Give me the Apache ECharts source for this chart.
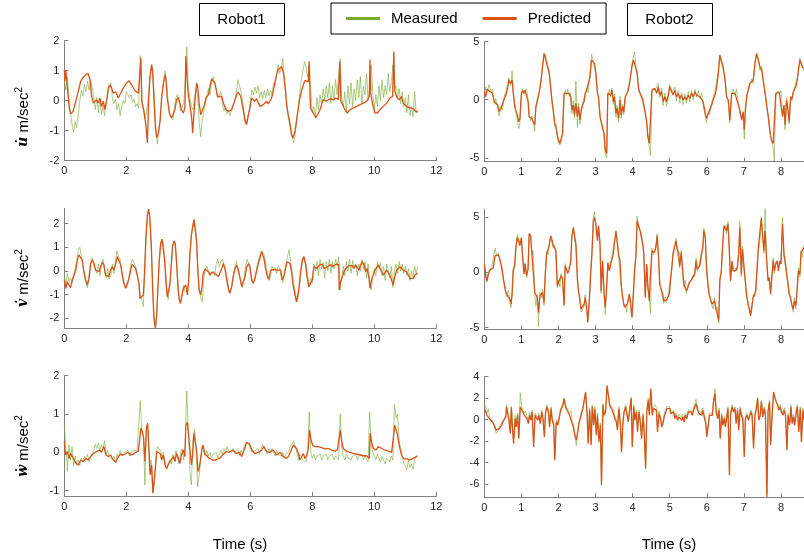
<!DOCTYPE html>
<html><head><meta charset="utf-8">
<script src="https://cdn.jsdelivr.net/npm/echarts@6/dist/echarts.min.js"></script>
<style>html,body{margin:0;padding:0;background:#fff}#c{width:804px;height:558px}</style>
</head><body><div id="c"></div>
<script>
// ---------------- DATA ----------------
const seriesNames = ['Measured', 'Predicted'];
const panelTitles = ['Robot1', 'Robot2'];
const yLabels = ['u', 'v', 'w'];
const xTicksL = [0, 2, 4, 6, 8, 10, 12];
const xTicksR = [0, 1, 2, 3, 4, 5, 6, 7, 8];
const yTicksTL = [-2, -1, 0, 1, 2];
const yTicksTR = [-5, 0, 5];
const yTicksML = [-2, -1, 0, 1, 2];
const yTicksMR = [-5, 0, 5];
const yTicksBL = [-1, 0, 1, 2];
const yTicksBR = [-6, -4, -2, 0, 2, 4];
const measStepL = 0.05; // sampling step of Robot1 measured series (s)

// Robot1 u-dot
const predTL_t = [0,0.02,0.05,0.1,0.16,0.2,0.29,0.38,0.45,0.53,0.61,0.7,0.77,0.83,0.88,0.94,0.99,1.04,1.1,1.15,1.2,1.26,1.31,1.37,1.42,1.47,1.53,1.58,1.66,1.74,1.82,1.9,2.01,2.09,2.17,2.28,2.39,2.44,2.47,2.5,2.57,2.63,2.68,2.72,2.76,2.82,2.85,2.89,2.94,2.98,3.03,3.09,3.14,3.19,3.25,3.28,3.32,3.39,3.46,3.52,3.57,3.62,3.68,3.73,3.78,3.84,3.89,3.92,3.96,4.0,4.05,4.11,4.14,4.18,4.23,4.27,4.3,4.35,4.4,4.46,4.52,4.57,4.65,4.7,4.75,4.81,4.86,4.94,5.0,5.08,5.13,5.22,5.29,5.4,5.47,5.56,5.61,5.69,5.77,5.83,5.88,5.94,5.99,6.04,6.1,6.15,6.2,6.26,6.31,6.37,6.42,6.47,6.53,6.58,6.63,6.69,6.74,6.8,6.85,6.9,6.96,7.01,7.04,7.08,7.13,7.17,7.22,7.28,7.33,7.38,7.44,7.49,7.54,7.6,7.65,7.71,7.76,7.82,7.87,7.9,7.94,7.98,8.03,8.12,8.2,8.25,8.3,8.35,8.44,8.52,8.59,8.68,8.76,8.84,8.89,8.92,8.98,9.05,9.13,9.22,9.33,9.43,9.54,9.65,9.75,9.84,9.86,9.89,9.95,10.02,10.1,10.18,10.29,10.4,10.5,10.59,10.63,10.66,10.72,10.8,10.88,10.93,11.04,11.15,11.26,11.37,11.4];
const predTL = [1.03,0.65,1.0,1.0,-0.25,-0.44,-0.35,0.03,0.3,0.65,0.78,0.87,0.9,0.7,0.15,-0.08,-0.02,0.03,-0.08,0.09,-0.19,-0.02,-0.3,0.03,0.42,0.53,0.42,0.25,0.3,0.09,0.25,0.42,0.59,0.67,0.53,0.33,0.25,0.25,1.42,-0.02,-0.36,-0.8,-1.41,-0.02,0.75,1.2,0.98,0.09,-0.91,-1.24,-1.08,-0.69,0.09,0.53,0.87,0.7,0.09,-0.41,-0.58,-0.58,-0.3,0.03,0.11,-0.08,-0.3,-0.41,-0.24,1.48,0.75,0.2,-0.13,-0.58,-1.08,-0.47,0.2,0.59,0.48,-0.08,-0.47,-0.41,-0.13,0.09,0.2,0.48,0.73,0.75,0.59,0.14,0.11,0.14,-0.08,-0.3,-0.36,-0.3,-0.08,0.2,0.29,0.14,-0.3,-0.69,-0.8,-0.47,-0.24,0.09,0.03,-0.02,0.07,0.03,-0.19,-0.24,-0.13,-0.19,-0.02,-0.11,-0.02,0.11,0.31,0.64,0.87,1.03,1.09,1.14,1.2,0.87,0.42,-0.13,-0.47,-0.8,-1.13,-1.24,-1.02,-0.69,-0.3,0.09,0.31,0.53,0.67,0.64,0.64,1.31,-0.24,-0.3,-0.41,-0.56,-0.41,-0.3,-0.13,0.03,-0.02,0.03,0.07,0.03,0.09,0.03,1.31,-0.02,-0.13,-0.3,-0.41,-0.3,-0.24,-0.19,-0.13,-0.08,-0.02,0.14,1.37,0.2,-0.13,-0.41,-0.41,-0.3,-0.19,-0.08,0.09,0.14,1.64,0.31,0.14,0.03,0.14,-0.08,-0.19,-0.24,-0.27,-0.38,-0.36];
const measTL = [0.7,0.35,0.8,0.1,-0.4,-0.8,-1.05,-0.7,-0.9,-0.45,
0.0,0.35,0.15,0.55,0.3,0.65,0.35,0.7,0.45,0.1,
-0.3,0.1,-0.4,0.05,-0.45,-0.15,-0.5,-0.1,0.2,0.45,
0.6,0.1,-0.1,0.05,-0.3,-0.1,-0.5,-0.2,0.0,-0.1,
0.3,0.2,0.1,0.2,-0.05,0.05,-0.2,-0.1,-0.25,1.5,
0.1,-0.3,-0.6,-0.4,0.0,0.6,1.1,0.9,0.2,-0.8,
-1.45,-1.0,-0.5,0.2,0.6,1.0,0.6,0.0,-0.5,-0.55,
-0.65,-0.2,0.1,0.2,-0.05,-0.35,-0.3,-0.1,0.6,1.8,
0.4,0.1,-0.2,-0.3,0.1,0.4,0.2,-0.7,-1.2,-0.6,
-0.4,-0.1,0.2,0.4,0.2,0.6,0.8,0.55,0.4,0.1,
0.1,0.3,-0.1,-0.35,-0.2,-0.45,-0.3,-0.5,-0.25,-0.2,
0.0,0.3,0.7,0.5,0.3,0.0,-0.4,-0.75,-0.7,-0.4,
0.0,0.35,0.2,0.45,0.25,0.5,0.1,0.3,0.05,0.35,
0.1,0.4,0.15,0.35,0.2,0.6,0.5,0.9,1.2,0.9,
1.1,1.4,0.6,0.2,-0.3,-0.55,-0.9,-1.2,-1.4,-1.1,
-0.6,-0.2,0.3,0.7,1.0,1.3,1.1,0.8,1.2,0.3,
-0.4,-0.2,-0.6,0.1,-0.3,0.2,-0.1,0.4,0.0,0.5,
0.1,0.6,-0.1,0.5,0.0,0.7,0.2,0.9,1.4,0.1,
-0.2,0.3,-0.4,0.5,-0.1,0.6,-0.2,0.4,0.0,0.7,
0.1,0.8,-0.1,0.5,0.2,0.9,0.0,0.4,1.2,0.3,
-0.3,0.2,-0.2,0.5,0.0,0.7,0.1,0.5,0.2,0.9,
0.3,0.6,1.2,0.4,0.5,0.1,0.4,-0.1,0.3,-0.2,
0.1,-0.4,0.2,-0.5,-0.2,-0.55,0.3,-0.4,-0.3];

// Robot1 v-dot
const predML_t = [0,0.05,0.1,0.15,0.2,0.26,0.31,0.37,0.42,0.47,0.53,0.58,0.63,0.69,0.74,0.8,0.85,0.9,0.96,1.01,1.06,1.12,1.17,1.23,1.28,1.33,1.39,1.44,1.49,1.55,1.6,1.66,1.71,1.76,1.82,1.87,1.92,1.98,2.03,2.09,2.14,2.19,2.25,2.3,2.35,2.41,2.44,2.49,2.55,2.59,2.63,2.68,2.72,2.76,2.81,2.85,2.89,2.94,2.98,3.02,3.06,3.11,3.15,3.19,3.23,3.28,3.32,3.37,3.41,3.45,3.49,3.54,3.58,3.62,3.67,3.71,3.75,3.8,3.84,3.88,3.92,3.97,4.01,4.05,4.1,4.14,4.18,4.23,4.27,4.31,4.35,4.4,4.45,4.48,4.54,4.59,4.65,4.7,4.75,4.81,4.86,4.91,4.97,5.02,5.08,5.13,5.19,5.24,5.3,5.34,5.4,5.45,5.51,5.56,5.62,5.67,5.72,5.77,5.83,5.88,5.94,5.99,6.04,6.1,6.15,6.2,6.26,6.31,6.37,6.4,6.44,6.49,6.55,6.6,6.66,6.71,6.76,6.82,6.87,6.92,6.98,7.03,7.08,7.14,7.19,7.25,7.28,7.33,7.38,7.44,7.49,7.52,7.57,7.62,7.68,7.73,7.78,7.83,7.89,7.95,8.0,8.05,8.11,8.16,8.22,8.27,8.33,8.38,8.43,8.49,8.54,8.59,8.65,8.7,8.75,8.81,8.85,8.87,8.91,8.97,9.02,9.08,9.13,9.19,9.24,9.29,9.34,9.4,9.45,9.51,9.56,9.61,9.67,9.72,9.77,9.83,9.86,9.91,9.97,10.02,10.08,10.13,10.18,10.24,10.29,10.35,10.4,10.45,10.5,10.56,10.61,10.66,10.72,10.77,10.83,10.88,10.93,10.99,11.04,11.09,11.15,11.2,11.26,11.31,11.37,11.4];
const predML = [-0.38,-0.73,-0.45,-0.59,-0.7,-0.38,-0.45,0.04,0.47,0.68,0.7,0.47,-0.03,-0.38,-0.59,-0.31,0.32,0.47,0.32,0.04,0.11,-0.03,0.18,0.37,0.25,-0.17,-0.1,-0.24,0.04,0.18,0.04,0.32,0.61,0.61,0.25,-0.17,-0.52,-0.73,-0.66,-0.31,0.04,0.28,0.32,0.11,-0.17,-0.52,-1.16,-1.18,-1.01,-0.03,1.38,2.37,2.62,2.23,0.96,-0.73,-2.0,-2.42,-1.86,-0.73,0.39,1.17,1.34,1.27,0.54,-0.45,-1.09,-1.01,-0.52,0.25,1.03,1.27,1.17,0.39,-0.73,-1.23,-1.37,-1.01,-0.73,-0.8,-0.59,-1.01,-0.45,0.68,1.52,1.87,2.16,2.09,1.24,-0.03,-0.8,-1.01,-0.59,-0.1,0.08,0.11,-0.03,-0.17,-0.06,-0.13,-0.1,-0.03,-0.24,-0.2,0.11,0.32,0.04,-0.38,-0.8,-0.94,-0.66,-0.24,0.11,0.25,0.04,-0.31,-0.66,-0.59,-0.24,0.14,0.32,0.18,-0.38,-0.52,-0.52,-0.03,0.32,0.54,0.82,0.85,0.54,0.11,-0.24,-0.34,0.04,0.08,0.07,0.08,0.04,0.08,0.04,-0.38,-0.24,0.11,0.39,0.47,0.32,-0.03,-0.59,-1.01,-1.3,-1.23,-0.73,-0.03,0.47,0.61,0.32,-0.24,-0.66,-0.73,-0.38,0.18,0.25,0.11,0.25,0.18,0.28,0.11,0.11,0.18,0.25,0.28,0.18,0.25,0.28,0.32,0.28,-0.8,-0.45,-0.24,-0.03,0.11,0.18,0.23,0.18,0.23,0.11,0.25,0.18,0.04,0.25,0.39,0.25,-0.03,0.11,-0.31,-0.73,-0.38,-0.17,0.04,0.11,0.25,0.18,-0.03,-0.17,-0.17,0.04,-0.03,-0.17,-0.1,-0.59,-0.24,0.04,0.11,0.18,0.11,0.04,-0.03,-0.03,-0.1,-0.31,-0.34,-0.31,-0.17,-0.1,-0.1];
const measML = [-0.2,-0.6,-0.1,-0.45,-0.3,-0.5,-0.2,0.1,0.4,0.9,
1.0,0.6,0.2,-0.2,-0.5,-0.7,-0.1,0.3,0.55,0.25,
0.2,-0.1,0.3,-0.2,0.35,0.5,0.0,-0.3,0.1,-0.35,
-0.2,0.3,-0.1,0.45,0.85,0.6,0.5,0.0,-0.3,-0.6,
-0.7,-0.55,-0.1,0.3,0.5,0.35,0.2,-0.1,-0.5,-1.0,
-1.2,-1.5,0.2,1.7,2.5,2.4,1.2,-0.6,-2.0,-2.3,
-1.3,0.1,1.1,1.35,1.2,0.3,-0.7,-1.2,-0.7,0.2,
1.1,1.25,0.8,-0.3,-1.1,-1.3,-1.0,-0.6,-0.9,-0.8,
-0.6,0.6,1.5,1.9,2.2,1.7,0.3,-0.8,-1.1,-1.3,
-0.3,0.1,0.2,0.0,-0.2,-0.1,0.0,-0.2,0.3,0.5,
0.2,0.4,0.5,0.3,0.1,-0.3,-0.7,-0.9,-0.7,-0.2,
0.2,0.4,0.0,-0.2,-0.5,-0.7,-0.3,0.2,0.5,0.3,
0.0,-0.3,-0.5,-0.4,0.1,0.4,0.6,0.85,0.9,0.7,
0.3,-0.1,-0.4,-0.2,0.2,0.0,0.15,-0.1,0.2,0.1,
-0.3,-0.5,0.0,0.3,0.6,0.9,0.4,0.0,-0.5,-0.9,
-1.25,-1.1,-0.5,0.1,0.5,0.55,0.3,-0.2,-0.6,-0.3,
-0.5,0.3,0.0,0.4,-0.2,0.5,0.1,0.35,-0.3,0.4,
0.0,0.5,-0.1,0.4,0.1,0.5,0.2,0.6,-0.8,-0.3,
0.2,-0.2,0.4,0.0,0.5,-0.1,0.45,0.1,0.3,-0.2,
0.3,0.0,0.5,0.1,0.4,-0.3,0.3,-0.4,-0.8,-0.2,
0.1,-0.2,0.4,0.1,0.35,-0.2,0.2,-0.4,0.3,0.0,
-0.3,0.2,-0.7,0.0,0.3,-0.1,0.4,0.0,0.3,-0.1,
0.2,-0.2,0.1,-0.4,0.0,-0.3,0.2,-0.1,0.2];

// Robot1 w-dot
const predBL_t = [0,0.04,0.1,0.15,0.2,0.26,0.31,0.38,0.45,0.53,0.61,0.7,0.77,0.85,0.94,1.04,1.15,1.2,1.28,1.34,1.42,1.49,1.58,1.66,1.74,1.82,1.9,1.99,2.06,2.14,2.23,2.31,2.39,2.44,2.47,2.52,2.56,2.6,2.65,2.69,2.73,2.77,2.82,2.86,2.89,2.94,2.98,3.03,3.09,3.14,3.19,3.25,3.3,3.35,3.41,3.46,3.52,3.57,3.62,3.68,3.73,3.78,3.84,3.89,3.92,3.97,4.01,4.05,4.1,4.14,4.18,4.23,4.27,4.31,4.35,4.4,4.44,4.48,4.53,4.59,4.68,4.78,4.89,5.0,5.11,5.22,5.32,5.43,5.54,5.65,5.72,5.8,5.88,5.97,6.05,6.15,6.26,6.37,6.44,6.53,6.63,6.74,6.85,6.96,7.06,7.15,7.23,7.3,7.39,7.44,7.49,7.55,7.6,7.66,7.71,7.76,7.82,7.87,7.91,7.96,8.01,8.09,8.19,8.3,8.41,8.52,8.62,8.73,8.81,8.87,8.9,8.95,9.0,9.11,9.22,9.32,9.43,9.54,9.65,9.75,9.84,9.87,9.91,9.97,10.05,10.13,10.24,10.35,10.45,10.56,10.61,10.66,10.7,10.75,10.81,10.88,10.96,11.05,11.13,11.22,11.3,11.39];
const predBL = [0.28,-0.07,0.02,-0.16,-0.03,-0.11,-0.07,-0.29,-0.33,-0.2,-0.24,-0.16,-0.2,-0.11,-0.03,0.02,0.06,0.0,0.15,-0.07,-0.11,-0.07,-0.2,-0.26,-0.11,-0.05,-0.07,-0.03,0.0,-0.07,-0.05,0.0,0.03,0.06,0.63,0.54,0.37,-0.24,0.63,0.76,0.1,-0.59,-0.33,-1.07,-1.03,-0.42,0.02,0.06,-0.03,-0.2,-0.07,-0.33,-0.42,-0.33,-0.24,-0.29,-0.11,-0.24,-0.03,-0.16,-0.29,-0.07,0.06,-0.11,0.71,0.78,0.45,0.1,-0.33,-0.07,0.5,0.54,0.02,-0.5,-0.42,-0.16,0.1,0.19,-0.03,-0.07,-0.16,-0.2,-0.2,-0.16,-0.07,0.02,0.0,0.06,-0.03,0.0,-0.11,0.06,0.26,0.23,0.06,-0.03,0.0,0.06,0.15,0.02,0.0,0.06,-0.07,0.0,-0.11,-0.16,-0.11,0.02,0.19,0.23,0.1,-0.03,-0.2,-0.11,-0.03,-0.16,-0.07,0.1,0.58,0.32,0.19,0.15,0.15,0.12,0.09,0.1,0.06,0.03,0.06,0.03,0.58,0.28,0.1,0.02,0.0,-0.03,-0.05,-0.07,-0.09,-0.09,-0.16,0.5,0.28,0.1,0.06,0.15,0.1,0.06,0.03,0.0,-0.03,0.71,0.67,0.45,0.15,-0.07,-0.17,-0.17,-0.2,-0.17,-0.14,-0.09];
const measBL = [0.75,0.1,-0.5,0.2,-0.2,0.15,-0.35,-0.1,-0.3,-0.2,
-0.35,-0.15,-0.25,-0.1,-0.2,-0.05,-0.25,-0.1,-0.15,0.05,
0.2,0.1,0.25,0.05,0.2,0.1,0.3,-0.05,0.05,-0.1,
-0.05,-0.2,-0.1,-0.25,-0.05,-0.15,0.05,-0.1,-0.05,0.0,
-0.05,0.05,-0.1,0.0,-0.05,0.05,0.0,0.05,0.1,1.35,
0.5,0.4,-0.85,0.7,0.6,-0.5,-0.2,-1.05,-0.8,-0.2,
0.15,0.1,0.05,-0.1,0.0,-0.25,-0.45,-0.3,-0.2,-0.3,
-0.05,-0.2,0.05,-0.1,-0.3,0.0,0.1,-0.2,0.2,1.6,
0.6,-0.5,-0.85,0.3,0.6,0.2,-0.9,-0.6,-0.2,0.15,
0.0,-0.1,0.05,-0.1,0.0,-0.15,-0.05,-0.1,0.0,-0.15,
-0.05,0.05,-0.05,0.1,0.0,0.15,0.05,0.1,0.0,0.1,
0.0,-0.05,0.1,-0.1,0.05,-0.05,0.15,0.25,0.3,0.2,
0.1,0.0,-0.05,0.05,0.0,0.1,-0.05,0.1,0.2,0.1,
0.05,-0.05,0.1,0.0,0.1,0.05,-0.1,0.05,-0.05,0.0,
-0.1,0.0,-0.15,-0.05,-0.1,0.05,0.15,0.2,0.3,0.25,
0.0,-0.2,-0.05,-0.1,-0.2,-0.15,-0.25,0.0,1.05,0.0,
-0.15,-0.05,-0.2,-0.1,-0.15,-0.05,-0.2,-0.1,-0.15,-0.05,
-0.2,-0.1,-0.15,-0.05,-0.2,-0.1,-0.15,-0.2,1.0,0.1,
-0.1,-0.2,-0.05,-0.15,-0.1,-0.2,-0.1,-0.15,-0.05,-0.2,
-0.1,-0.15,-0.05,-0.2,-0.1,-0.15,-0.25,1.05,0.2,0.0,
-0.1,-0.2,-0.05,-0.15,-0.25,-0.1,-0.2,-0.3,-0.15,-0.2,
-0.25,-0.1,-0.2,1.25,0.9,1.0,0.3,0.1,-0.1,-0.3,
-0.35,-0.45,-0.2,-0.4,-0.3,-0.45,-0.2,-0.1,-0.15];

// Robot2 u-dot
const tTR = [0,0.04,0.07,0.13,0.18,0.22,0.27,0.31,0.36,0.4,0.45,0.49,0.54,0.58,0.63,0.66,0.71,0.75,0.78,0.82,0.85,0.89,0.93,0.96,1.0,1.03,1.07,1.1,1.14,1.18,1.21,1.25,1.28,1.32,1.36,1.39,1.43,1.46,1.5,1.54,1.57,1.61,1.64,1.68,1.72,1.75,1.79,1.82,1.86,1.9,1.93,1.97,2.0,2.04,2.07,2.11,2.15,2.18,2.22,2.25,2.29,2.33,2.36,2.4,2.43,2.47,2.51,2.54,2.58,2.61,2.65,2.69,2.72,2.76,2.8,2.85,2.89,2.94,2.97,3.01,3.05,3.08,3.12,3.15,3.19,3.23,3.26,3.3,3.33,3.37,3.41,3.44,3.48,3.51,3.55,3.58,3.62,3.66,3.69,3.73,3.76,3.8,3.84,3.87,3.91,3.94,3.98,4.02,4.05,4.09,4.12,4.16,4.2,4.23,4.27,4.3,4.34,4.38,4.41,4.45,4.48,4.52,4.56,4.6,4.65,4.69,4.73,4.78,4.82,4.87,4.91,4.96,5.0,5.05,5.09,5.14,5.18,5.23,5.27,5.32,5.36,5.41,5.45,5.5,5.54,5.59,5.63,5.68,5.72,5.77,5.81,5.86,5.9,5.95,5.99,6.04,6.08,6.13,6.17,6.22,6.26,6.31,6.35,6.4,6.44,6.49,6.53,6.58,6.62,6.67,6.71,6.76,6.8,6.85,6.89,6.94,6.98,7.01,7.04,7.08,7.12,7.16,7.21,7.25,7.3,7.34,7.39,7.43,7.48,7.52,7.57,7.61,7.66,7.7,7.74,7.79,7.82,7.86,7.91,7.95,8.0,8.04,8.08,8.11,8.15,8.19,8.22,8.26,8.29,8.33,8.36,8.4,8.44,8.47,8.51,8.54,8.58,8.62];
const predTR = [0.69,0.26,0.89,0.78,0.83,0.55,-0.17,-0.32,-0.46,-1.03,-0.75,-0.6,0.11,0.4,0.98,1.7,1.41,1.7,0.69,-0.6,-0.66,-1.32,-1.9,-1.61,0.55,0.78,0.55,0.83,0.78,-0.17,-1.47,-1.52,-1.61,-1.75,-2.18,-0.6,-0.46,0.4,0.98,1.98,2.84,3.99,3.71,3.13,3.13,2.27,0.98,0.11,-1.03,-2.04,-2.33,-3.05,-3.48,-3.76,-3.62,-2.9,0.55,0.6,0.55,0.69,0.55,0.26,-0.89,-0.46,-1.32,-0.32,-1.47,-0.6,-1.75,-1.03,-0.46,-0.17,0.55,0.83,0.83,1.98,3.42,3.56,3.13,2.27,0.55,0.26,-1.47,-1.61,-2.47,-2.9,-4.34,-4.63,0.55,0.69,0.4,0.83,-0.17,0.26,-1.18,-0.75,-1.61,-0.03,-1.32,-0.6,-1.03,0.26,0.4,0.69,1.26,1.98,2.84,3.42,3.13,3.13,2.27,0.98,0.55,0.69,-0.03,0.11,-1.18,-1.9,-3.19,-3.76,-3.91,0.83,0.69,0.98,0.55,1.12,0.4,0.69,-0.17,0.26,-0.17,0.4,1.12,0.98,0.4,0.83,0.26,0.55,0.11,0.4,-0.03,0.26,-0.03,0.4,0.11,0.55,0.26,0.69,0.4,0.55,0.26,0.4,-0.17,-1.03,-1.61,-1.18,-1.03,-0.46,-0.03,0.4,0.98,2.27,3.85,3.28,2.84,1.7,0.26,-0.03,-1.75,0.55,0.69,0.55,0.69,-0.46,-0.89,-1.75,-1.03,-2.61,-0.89,0.4,0.55,1.41,1.55,1.7,3.13,3.99,3.42,2.84,2.56,1.7,0.55,-0.32,-1.61,-2.61,-3.48,-3.76,-3.91,0.55,0.55,0.69,0.55,-1.47,-0.46,-2.18,-0.03,-0.89,-1.9,0.26,-0.03,0.69,0.83,1.12,1.7,2.56,3.42,3.28,2.84,2.7];
const measTR = [0.5,1.1,0.6,1.3,0.7,0.9,-0.4,0.1,-0.7,-1.4,-0.5,-0.9,0.3,0.2,1.3,1.9,1.2,2.5,0.4,-0.3,-1.0,-1.1,-2.5,-2.0,0.3,0.9,0.7,0.6,0.9,0.1,-1.2,-1.8,-1.4,-2.0,-2.7,-0.8,-0.3,0.2,1.2,1.6,3.0,3.7,3.9,3.4,2.9,2.5,1.3,-0.2,-0.8,-2.3,-2.1,-3.3,-3.7,-3.9,-3.5,-3.1,0.4,0.8,0.4,0.9,0.3,0.5,-1.2,-0.1,-1.6,1.6,-2.4,-0.3,-2.1,-0.8,-0.7,0.1,0.3,1.0,0.6,2.2,3.9,3.4,3.3,2.0,0.8,0.0,-1.2,-1.9,-2.2,-3.2,-4.6,-5.0,0.4,0.9,0.2,1.0,-0.4,0.5,-1.5,-0.5,-1.9,0.3,-1.6,-0.4,-1.3,0.0,0.6,0.5,1.5,1.8,3.1,3.2,4.1,2.9,2.5,0.7,0.8,0.4,0.2,-0.2,-1.0,-2.2,-3.0,-4.1,-4.8,0.6,1.0,0.8,0.9,1.4,0.2,1.0,-0.5,0.6,-0.6,0.1,1.3,0.6,0.7,1.1,-0.1,0.8,-0.3,0.6,-0.4,0.5,-0.3,0.7,-0.2,0.8,0.0,0.9,0.2,0.8,0.1,0.6,-0.5,-1.3,-2.0,-1.0,-1.3,-0.2,-0.3,0.7,0.8,2.5,3.6,3.5,2.6,2.0,0.5,-0.3,-2.0,0.3,0.9,0.4,0.9,-0.2,-1.2,-1.5,-1.3,-3.4,-0.6,0.2,0.8,1.2,1.8,1.4,3.3,3.8,3.6,2.5,2.9,1.5,0.8,-0.6,-1.3,-2.9,-3.3,-4.1,-5.3,0.3,0.7,0.5,0.8,-1.2,-0.7,-2.6,0.2,-1.1,-2.1,0.0,0.2,0.5,1.0,0.9,1.9,2.4,3.6,3.0,3.1,2.4];

// Robot2 v-dot
const tMR = [0,0.04,0.07,0.11,0.15,0.2,0.24,0.29,0.33,0.38,0.42,0.47,0.51,0.56,0.6,0.65,0.69,0.72,0.75,0.78,0.82,0.85,0.89,0.93,0.96,1.0,1.03,1.07,1.1,1.14,1.18,1.21,1.25,1.28,1.32,1.36,1.39,1.43,1.46,1.5,1.54,1.57,1.61,1.64,1.68,1.72,1.75,1.79,1.82,1.86,1.9,1.93,1.97,2.0,2.04,2.07,2.11,2.15,2.18,2.22,2.25,2.29,2.33,2.36,2.4,2.43,2.47,2.51,2.54,2.58,2.61,2.65,2.69,2.72,2.76,2.79,2.83,2.87,2.9,2.94,2.97,3.01,3.05,3.08,3.12,3.15,3.19,3.23,3.26,3.3,3.33,3.37,3.41,3.44,3.48,3.51,3.55,3.58,3.62,3.66,3.69,3.73,3.76,3.8,3.84,3.87,3.91,3.94,3.98,4.02,4.05,4.09,4.12,4.16,4.2,4.23,4.27,4.3,4.34,4.38,4.41,4.45,4.48,4.52,4.56,4.59,4.63,4.66,4.7,4.73,4.77,4.81,4.84,4.88,4.91,4.95,4.99,5.02,5.06,5.09,5.13,5.17,5.2,5.24,5.27,5.31,5.35,5.38,5.42,5.45,5.49,5.53,5.56,5.6,5.63,5.67,5.71,5.74,5.78,5.81,5.85,5.89,5.92,5.96,5.99,6.03,6.06,6.1,6.14,6.17,6.21,6.24,6.28,6.32,6.35,6.39,6.42,6.46,6.5,6.53,6.57,6.6,6.64,6.68,6.71,6.75,6.78,6.82,6.86,6.89,6.93,6.96,7.0,7.04,7.07,7.11,7.14,7.18,7.21,7.25,7.29,7.32,7.36,7.39,7.43,7.47,7.5,7.54,7.57,7.61,7.65,7.68,7.72,7.75,7.79,7.82,7.86,7.9,7.93,7.97,8.0,8.04,8.08,8.11,8.15,8.19,8.22,8.26,8.29,8.33,8.36,8.4,8.44,8.47,8.51,8.54,8.58,8.62];
const predMR = [0.76,-0.3,-0.82,-0.15,0.21,0.15,0.39,1.51,1.66,1.6,1.21,0.45,-0.45,-1.51,-1.96,-1.81,-2.42,-2.87,-1.96,0.15,0.6,2.27,3.17,3.32,2.42,3.17,1.51,-0.15,0.76,-0.3,0.3,3.53,3.32,1.81,1.81,-1.81,-1.96,-2.27,-3.63,-2.11,-1.96,-1.81,-2.72,-0.45,1.66,1.81,2.42,3.32,3.02,2.42,2.21,1.96,-1.21,-0.91,-1.06,-0.3,-0.6,-3.02,0.6,0.45,-0.09,0.3,1.06,3.17,4.08,3.47,2.57,-0.6,-1.66,-2.57,-3.32,-3.47,-2.87,-2.27,-3.17,-4.53,-2.57,0.0,1.51,4.68,4.98,4.38,2.87,4.23,2.57,-1.66,1.06,-1.96,-3.17,-1.36,0.91,0.15,0.76,1.21,1.66,2.72,3.78,2.87,1.66,1.06,-1.06,-2.27,-2.87,-3.17,-3.32,-2.72,-1.96,-2.57,-4.08,-1.96,0.0,1.66,4.68,4.23,3.78,3.93,2.57,1.81,-2.27,0.76,-1.21,-2.57,-0.15,1.96,1.81,1.81,2.42,3.32,1.36,-1.06,-1.51,-1.96,-2.57,-2.42,-2.51,-2.42,-1.96,-0.76,0.6,1.66,2.27,2.87,2.11,1.81,0.6,1.81,0.15,-1.06,-0.91,-1.66,-1.36,-0.91,-1.06,-0.6,-0.45,-0.15,1.06,0.3,0.15,0.6,1.51,2.27,3.78,3.17,0.45,-1.06,-1.96,-2.42,-2.87,-3.02,-2.57,-3.17,-3.32,-4.38,-0.76,0.15,1.96,4.23,4.08,3.78,4.38,2.57,-0.76,1.06,0.15,0.3,0.15,0.45,1.66,4.08,-0.15,2.11,0.6,-0.91,-1.96,-2.87,-3.17,-3.93,-3.17,-2.27,-1.96,-1.66,0.6,2.27,2.42,4.98,3.47,1.96,3.78,1.36,-0.76,-0.45,-1.96,-0.45,1.06,0.15,0.76,1.06,0.15,1.06,0.76,4.38,1.66,1.06,0.0,-1.06,-1.96,-2.27,-2.87,-3.32,-2.57,-3.02,-1.36,0.15,-0.15,1.81,1.66,2.27];
const measMR = [0.9,-0.1,-0.7,0.1,0.3,0.5,0.6,2.2,1.5,1.8,1.0,0.6,-0.6,-1.3,-2.2,-1.6,-2.6,-3.2,-1.7,0.4,0.8,2.0,3.4,3.1,2.6,3.0,1.8,0.1,0.9,-0.5,0.5,3.3,3.5,1.6,2.0,-2.0,-3.0,-2.0,-4.9,-1.8,-2.3,-1.5,-3.0,-0.2,1.9,1.6,2.7,3.1,3.2,2.2,2.5,1.7,-1.4,-0.7,-1.3,-0.1,-0.8,-2.8,0.8,0.2,0.1,0.5,0.8,3.4,3.8,3.7,2.3,-0.3,-1.9,-2.3,-3.6,-3.3,-3.1,-2.0,-3.4,-4.3,-2.8,0.3,1.7,4.9,5.5,4.1,3.1,4.0,2.8,-1.9,0.8,-1.7,-3.8,-1.1,0.7,0.4,0.5,1.4,1.4,2.9,3.5,3.1,1.4,1.3,-1.3,-2.0,-3.1,-2.9,-3.6,-2.5,-2.2,-2.3,-4.0,-1.7,0.3,1.4,5.1,4.0,4.0,3.7,2.8,1.6,-2.0,0.5,-1.5,-2.3,-3.7,2.2,1.6,2.0,2.2,3.5,1.1,-0.8,-1.8,-1.7,-2.8,-2.2,-2.7,-2.2,-2.2,-0.5,0.4,1.9,2.0,3.1,1.9,2.0,0.4,2.0,-0.1,-1.3,-0.7,-1.9,-1.1,-1.1,-0.8,-0.8,-0.2,-0.4,1.3,0.1,0.4,0.4,1.8,2.0,4.0,2.9,0.7,-1.3,-1.7,-2.6,-2.6,-3.3,-2.3,-3.4,-3.1,-4.6,-0.5,-0.1,2.2,4.0,4.3,3.5,4.6,2.3,-0.5,0.8,0.4,0.1,0.4,0.2,1.9,4.6,-0.4,2.4,0.3,-0.7,-2.2,-2.6,-3.4,-3.7,-3.4,-2.0,-2.2,-1.4,0.8,2.0,2.7,4.8,3.7,1.7,5.8,1.1,-0.5,-0.7,-1.7,-0.7,1.3,-0.1,1.0,0.8,0.4,0.8,1.0,5.0,1.4,1.3,-0.2,-1.3,-1.7,-2.5,-2.6,-3.6,-2.3,-3.3,-1.1,0.4,-0.4,2.0,1.4,2.5];

// Robot2 w-dot
const tBR = [0,0.04,0.07,0.11,0.14,0.18,0.22,0.25,0.29,0.32,0.36,0.4,0.43,0.47,0.5,0.54,0.58,0.6,0.64,0.67,0.7,0.73,0.76,0.79,0.83,0.86,0.9,0.93,0.97,1.01,1.04,1.08,1.11,1.15,1.19,1.22,1.26,1.29,1.33,1.37,1.4,1.44,1.47,1.51,1.55,1.58,1.62,1.65,1.69,1.73,1.76,1.8,1.83,1.87,1.9,1.94,1.98,2.01,2.05,2.08,2.12,2.15,2.19,2.23,2.26,2.3,2.34,2.37,2.41,2.44,2.48,2.52,2.55,2.59,2.62,2.66,2.7,2.73,2.77,2.8,2.84,2.88,2.91,2.95,2.98,3.02,3.05,3.09,3.13,3.16,3.2,3.23,3.27,3.31,3.34,3.38,3.41,3.45,3.49,3.52,3.56,3.59,3.63,3.67,3.7,3.74,3.77,3.81,3.85,3.88,3.92,3.96,3.99,4.03,4.06,4.1,4.13,4.17,4.21,4.24,4.28,4.31,4.35,4.38,4.42,4.45,4.49,4.53,4.56,4.6,4.64,4.67,4.71,4.75,4.78,4.82,4.85,4.89,4.92,4.96,5.0,5.03,5.07,5.1,5.14,5.17,5.21,5.25,5.28,5.32,5.35,5.39,5.42,5.46,5.5,5.53,5.57,5.61,5.64,5.68,5.71,5.75,5.79,5.82,5.86,5.89,5.93,5.97,6.0,6.04,6.07,6.11,6.15,6.18,6.22,6.25,6.29,6.33,6.36,6.4,6.43,6.47,6.5,6.54,6.57,6.61,6.64,6.68,6.72,6.76,6.79,6.83,6.86,6.9,6.93,6.97,7.01,7.04,7.08,7.12,7.15,7.19,7.22,7.26,7.3,7.33,7.37,7.4,7.44,7.47,7.51,7.55,7.58,7.62,7.65,7.69,7.72,7.76,7.8,7.83,7.87,7.91,7.94,7.98,8.01,8.05,8.09,8.12,8.16,8.19,8.23,8.27,8.3,8.34,8.37,8.41,8.44,8.48,8.52,8.55,8.59,8.62];
const predBR = [1.02,0.71,0.4,0.56,0.09,-0.06,-0.22,-0.37,-0.68,-0.99,-1.15,-0.84,-0.68,-0.53,-0.22,-0.06,0.25,1.18,0.4,-0.22,-1.3,1.18,-0.84,-2.24,0.09,-0.68,0.4,-1.77,1.18,1.02,0.71,0.4,0.56,0.09,-0.37,0.4,-0.06,0.71,-2.55,0.4,0.25,-0.06,0.4,-0.37,0.71,0.09,-1.61,0.56,1.18,0.71,-0.68,1.02,-0.06,-0.53,-3.79,-0.22,-0.53,-0.06,0.71,1.02,1.34,1.96,1.18,0.87,1.02,0.4,0.56,-0.37,-0.84,-1.46,-1.93,-1.15,-0.37,0.09,0.56,1.02,1.02,2.58,0.71,-2.24,0.87,-2.39,1.18,-0.53,1.02,-1.46,0.4,-2.08,-0.53,-6.12,1.34,0.4,0.71,3.2,3.2,1.34,1.18,0.87,0.71,0.09,-0.22,-0.99,1.02,-0.53,-3.01,-0.22,0.71,1.18,0.4,-0.22,0.87,1.96,-2.55,1.18,-0.06,0.71,-1.15,0.71,-0.37,-1.77,0.4,-1.15,-4.57,0.71,1.8,0.4,2.89,0.4,1.02,1.18,0.87,-1.15,0.56,0.09,-0.68,-0.37,0.25,0.71,1.02,0.87,1.02,0.56,0.4,0.71,0.09,0.4,-0.06,0.25,0.4,-0.06,0.25,-0.22,0.4,0.09,0.71,0.56,0.71,0.4,0.87,1.02,1.49,0.87,0.56,0.71,0.4,0.87,1.02,-0.37,-1.61,-0.53,0.4,0.25,0.4,1.65,2.42,0.71,0.09,0.87,-1.77,0.4,-0.53,0.09,-0.68,-0.53,1.02,-5.19,0.4,1.18,0.71,1.02,-0.37,0.87,-0.99,1.02,0.4,0.09,-3.48,0.09,0.4,-0.06,0.25,0.71,0.4,-2.7,0.4,0.87,1.96,-0.06,0.4,1.65,0.25,1.02,0.4,-7.2,0.71,1.65,-2.39,0.4,2.58,2.11,1.65,1.34,0.87,1.18,0.71,0.4,0.87,0.4,-2.86,0.4,-0.53,1.18,-0.37,0.25,-0.53,0.71,1.18,-1.15,1.02,-2.08,0.87,-0.06];
const measBR = [1.5,1.2,0.6,1.0,0.3,0.2,-0.1,-0.5,-0.9,-1.3,-1.1,-0.7,-0.5,-0.3,-0.1,0.1,0.5,1.4,0.6,0.0,-1.0,1.2,-0.6,-1.9,0.4,-0.4,0.6,-1.4,2.5,1.2,0.9,0.6,0.8,0.3,-0.1,0.7,0.2,0.9,-2.2,0.6,0.5,0.2,0.6,-0.1,0.9,0.3,-1.3,0.8,1.4,0.9,-0.4,1.2,0.2,-0.3,-3.5,0.0,-0.3,0.2,0.9,1.2,1.5,2.0,1.4,1.1,1.2,0.6,0.8,-0.1,-0.6,-1.2,-2.4,-1.0,-0.2,0.3,0.8,1.2,1.3,2.5,0.9,-2.0,1.1,-2.1,1.4,-0.3,1.2,-1.2,0.6,-1.8,-0.3,-5.8,1.5,0.6,0.9,3.0,3.1,1.5,1.4,1.1,0.9,0.3,0.0,-0.8,1.2,-0.3,-2.7,0.0,0.9,1.4,0.6,0.0,1.1,2.1,-2.3,1.4,0.2,0.9,-0.9,0.9,-0.1,-1.5,0.6,-0.9,-4.3,0.9,2.0,0.6,2.6,0.6,1.2,1.4,1.1,-0.9,0.8,0.3,-0.4,-0.1,0.5,0.9,1.2,1.1,1.2,0.8,0.6,0.9,0.3,0.6,0.2,0.5,0.6,0.2,0.5,0.0,0.6,0.3,0.9,0.8,0.9,0.6,1.1,1.2,1.9,1.1,0.8,0.9,0.6,1.1,1.2,-0.1,-1.3,-0.3,0.6,0.5,0.6,1.8,2.9,0.9,0.3,1.1,-1.5,0.6,-0.3,0.3,-0.4,-0.3,1.2,-4.9,0.6,1.4,0.9,1.2,-0.1,1.1,-0.7,1.2,0.6,0.3,-3.2,0.3,0.6,0.2,0.5,0.9,0.6,-2.4,0.6,1.1,2.1,0.2,0.6,1.8,0.5,1.2,0.6,-6.9,0.9,1.8,-2.1,0.6,2.4,2.3,1.8,1.5,1.1,1.4,0.9,0.6,1.1,0.6,-2.6,0.6,-0.3,1.4,-0.1,0.5,-0.3,0.9,1.4,-0.9,1.2,-1.8,1.1,0.2];

// ---------------- CHART ----------------
function check(name, a, b) { if (a.length !== b.length) throw new Error(name + ' length mismatch ' + a.length + ' vs ' + b.length); }
check('TL', predTL_t, predTL); check('ML', predML_t, predML); check('BL', predBL_t, predBL);
check('TR', tTR, predTR); check('TRm', tTR, measTR);
check('MR', tMR, predMR); check('MRm', tMR, measMR);
check('BR', tBR, predBR); check('BRm', tBR, measBR);

const stepTimes = arr => arr.map((_, i) => +(i * measStepL).toFixed(2));
const zip = (t, v) => t.map((x, i) => [x, v[i]]);

const GREEN = '#77AC30', ORANGE = '#D95319', AXIS = '#808080', FONT = 'Liberation Sans, Arial, Helvetica, sans-serif';

const panels = [
  { grid: {left: 64.3, top: 40.7, width: 372, height: 120}, x: [0, 12, xTicksL], y: [-2, 2, yTicksTL], meas: zip(stepTimes(measTL), measTL), pred: zip(predTL_t, predTL) },
  { grid: {left: 484.3, top: 41.7, width: 320, height: 120}, x: [0, 8.62, xTicksR], y: [-5.34, 5, yTicksTR], meas: zip(tTR, measTR), pred: zip(tTR, predTR) },
  { grid: {left: 64.3, top: 208.3, width: 372, height: 120}, x: [0, 12, xTicksL], y: [-2.42, 2.65, yTicksML], meas: zip(stepTimes(measML), measML), pred: zip(predML_t, predML) },
  { grid: {left: 484.3, top: 209, width: 320, height: 120.3}, x: [0, 8.62, xTicksR], y: [-5.15, 5.75, yTicksMR], meas: zip(tMR, measMR), pred: zip(tMR, predMR) },
  { grid: {left: 64.3, top: 375.7, width: 372, height: 120.3}, x: [0, 12, xTicksL], y: [-1.14, 2, yTicksBL], meas: zip(stepTimes(measBL), measBL), pred: zip(predBL_t, predBL) },
  { grid: {left: 484.3, top: 376.7, width: 320, height: 120.6}, x: [0, 8.62, xTicksR], y: [-7.24, 4, yTicksBR], meas: zip(tBR, measBR), pred: zip(tBR, predBR) }
];

const grids = [], xAxes = [], yAxes = [], series = [];
panels.forEach((p, i) => {
  grids.push(Object.assign({containLabel: false}, p.grid));
  xAxes.push({
    type: 'value', gridIndex: i, min: p.x[0], max: p.x[1],
    axisLine: {show: true, onZero: false, lineStyle: {color: AXIS, width: 1}},
    axisTick: {show: true, inside: true, length: 4, customValues: p.x[2], lineStyle: {color: AXIS}},
    axisLabel: {customValues: p.x[2], color: '#262626', fontSize: 11, fontFamily: FONT, margin: 5},
    splitLine: {show: false}
  });
  yAxes.push({
    type: 'value', gridIndex: i, min: p.y[0], max: p.y[1],
    axisLine: {show: true, onZero: false, lineStyle: {color: AXIS, width: 1}},
    axisTick: {show: true, inside: true, length: 4, customValues: p.y[2], lineStyle: {color: AXIS}},
    axisLabel: {customValues: p.y[2], color: '#262626', fontSize: 11, fontFamily: FONT, margin: 5},
    splitLine: {show: false}
  });
  series.push({
    name: seriesNames[0], type: 'line', xAxisIndex: i, yAxisIndex: i, data: p.meas,
    symbol: 'none', showSymbol: false, z: 2, silent: true,
    lineStyle: {color: GREEN, width: 1, opacity: 0.6}, itemStyle: {color: GREEN}
  });
  series.push({
    name: seriesNames[1], type: 'line', xAxisIndex: i, yAxisIndex: i, data: p.pred,
    symbol: 'none', showSymbol: false, z: 3, silent: true,
    lineStyle: {color: ORANGE, width: 1.3}, itemStyle: {color: ORANGE}
  });
});

function yLabel(letter, cy) {
  return {
    type: 'text', x: 23.5, y: cy, rotation: Math.PI / 2, silent: true,
    style: {
      text: '{a|' + letter + '\u0307} m/sec{b|2}',
      align: 'center', verticalAlign: 'middle',
      font: '15px ' + FONT, fill: '#000',
      rich: {
        a: {fontFamily: 'DejaVu Serif', fontStyle: 'italic', fontWeight: 'bold', fontSize: 14, lineHeight: 18},
        b: {fontSize: 10, verticalAlign: 'top', lineHeight: 10}
      }
    }
  };
}
function titleBox(text, x0, cx) {
  return [
    {type: 'rect', shape: {x: x0 + 0.5, y: 3.5, width: 85, height: 32}, style: {fill: '#fff', stroke: '#000', lineWidth: 1}, silent: true},
    {type: 'text', x: cx, y: 19.5, style: {text: text, align: 'center', verticalAlign: 'middle', font: '15px ' + FONT, fill: '#000'}, silent: true}
  ];
}

const option = {
  animation: false,
  backgroundColor: '#fff',
  grid: grids, xAxis: xAxes, yAxis: yAxes, series: series,
  legend: {
    data: seriesNames, left: 331, top: 3, orient: 'horizontal',
    padding: [8, 15, 8, 15], borderColor: '#000', borderWidth: 1, backgroundColor: '#fff',
    itemWidth: 34, itemHeight: 3, itemGap: 25, icon: 'rect',
    itemStyle: {opacity: 1},
    textStyle: {fontSize: 15, fontFamily: FONT, color: '#000', padding: [0, 0, 0, 6]}
  },
  graphic: [
    ...titleBox(panelTitles[0], 199, 241.5),
    ...titleBox(panelTitles[1], 627, 669.5),
    yLabel(yLabels[0], 117),
    yLabel(yLabels[1], 278),
    yLabel(yLabels[2], 446),
    {type: 'text', x: 240, y: 545, style: {text: 'Time (s)', align: 'center', verticalAlign: 'middle', font: '15px ' + FONT, fill: '#000'}, silent: true},
    {type: 'text', x: 669, y: 545, style: {text: 'Time (s)', align: 'center', verticalAlign: 'middle', font: '15px ' + FONT, fill: '#000'}, silent: true}
  ]
};

const chart = echarts.init(document.getElementById('c'), null, {renderer: 'canvas', width: 804, height: 558});
chart.setOption(option);
</script>
</body></html>
